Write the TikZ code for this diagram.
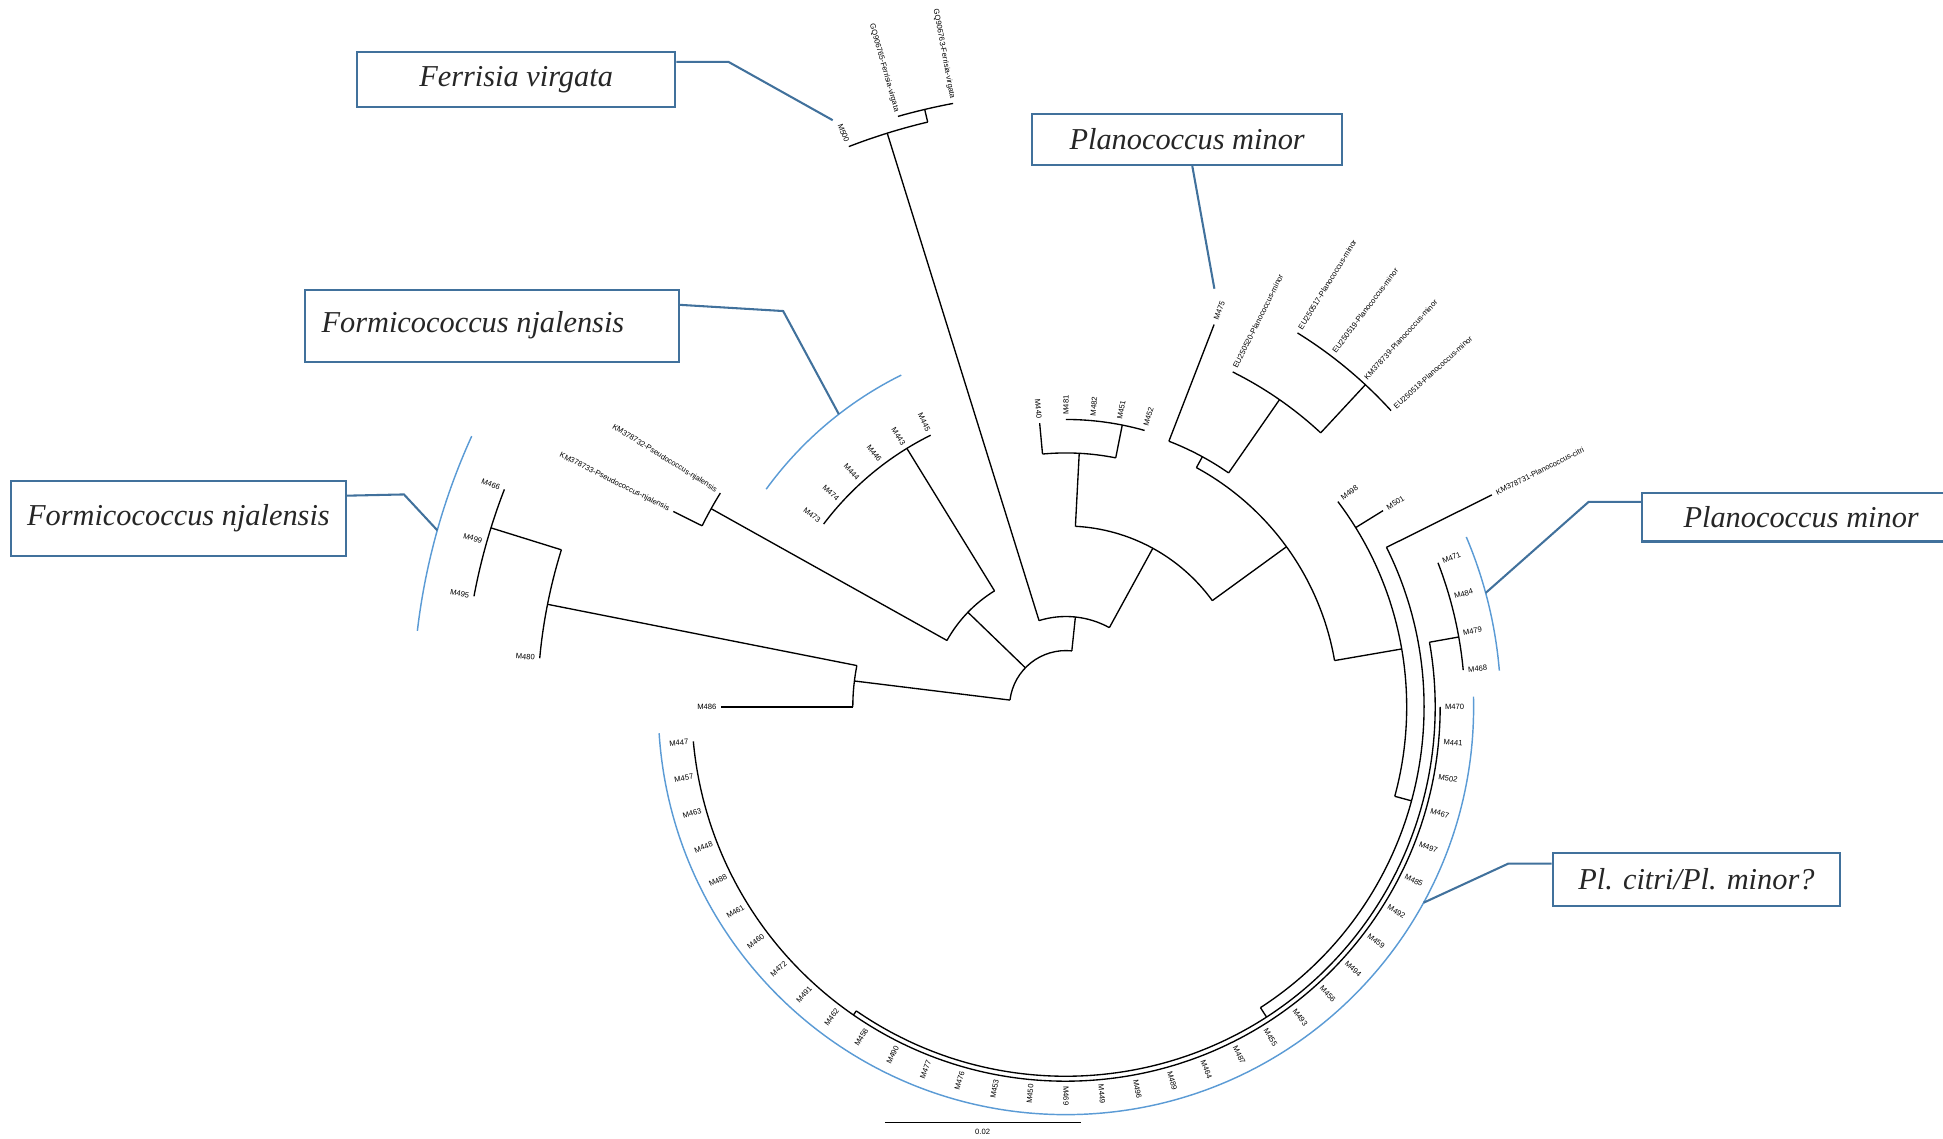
\documentclass[tikz,border=0pt]{standalone}
\usepackage{fontspec}
\setmainfont{Liberation Serif}
\newfontfamily\lblfont{Liberation Sans}
\usetikzlibrary{calc}
\definecolor{connblue}{HTML}{41719C}
\definecolor{arcblue}{HTML}{5B9BD5}
\newcommand\tarc[3]{\draw[branch] ($(O)+({#1}:{#3})$) arc[start angle={#1},end angle={#2},radius={#3}];}
\newcommand\trad[3]{\draw[branch] ($(O)+({#1}:{#2})$) -- ($(O)+({#1}:{#3})$);}
\newcommand\leaf[4]{%
  \pgfmathtruncatemacro\lside{cos(#2)>-0.01 ? 1 : 0}%
  \ifnum\lside=1
    \node[leaflbl,anchor=west,rotate={#2}] (#1) at ($(O)+({#2}:{#3+3})$) {#4};
  \else
    \node[leaflbl,anchor=east,rotate={#2+180}] (#1) at ($(O)+({#2}:{#3+3})$) {#4};
  \fi}
\begin{document}
\begin{tikzpicture}[x=0.6pt,y=0.6pt,
  branch/.style={line width=0.65pt,black},
  leaflbl/.style={font=\lblfont\fontsize{3.7}{4}\selectfont,inner sep=0.4pt},
  clabox/.style={draw=connblue,line width=1pt,font=\itshape\fontsize{14.7}{17}\selectfont,text=black!85,inner sep=0pt},
  callout/.style={draw=connblue,line width=1pt},
  cladearc/.style={draw=arcblue,line width=0.7pt}]
\useasboundingbox (0,0) rectangle (1568,-919);
\coordinate (O) at (860.2,-570.5);

% ---------- tree ----------
\tarc{84}{173}{45.5}
\trad{173}{45.5}{172} \tarc{168.8}{180}{172}
\trad{180}{172}{278}
\trad{168.8}{172}{426.5} \tarc{162.7}{174.71}{426.5}
\trad{162.7}{426.5}{486} \tarc{158.82}{169.41}{486}
\trad{136}{45.5}{110} \tarc{121.6}{150.8}{110}
\trad{150.8}{110}{328} \tarc{148.24}{153.53}{328}
\trad{153.53}{328}{354}
\trad{121.6}{110}{245} \tarc{116.47}{142.94}{245}
\trad{84}{45.5}{73} \tarc{61.3}{107.3}{73}
\trad{107.3}{73}{485} \tarc{103.3}{111.18}{485}
\trad{103.3}{485}{495.5} \tarc{100.59}{105.88}{495.5}
\trad{61.3}{73}{146} \tarc{36}{87}{146}
\trad{87}{146}{205} \tarc{78.7}{95.29}{205}
\trad{95.29}{205}{230}
\trad{78.7}{205}{232} \tarc{74.12}{90}{232}
\trad{36}{146}{220} \tarc{9.8}{61.4}{220}
\trad{61.4}{220}{230} \tarc{55.2}{68.82}{230}
\trad{68.82}{230}{331}
\trad{55.2}{230}{302} \tarc{47.1}{63.53}{302}
\trad{47.1}{302}{355} \tarc{42.35}{58.24}{355}
\trad{9.8}{220}{275} \tarc{-15.2}{37.06}{275}
\trad{31.76}{275}{301}
\trad{-15.2}{275}{289} \tarc{-57.1}{26.47}{289}
\trad{26.47}{289}{384}
\trad{-57.1}{289}{298} \tarc{-124.6}{10.1}{298}
\trad{10.1}{298}{322} \tarc{5.29}{21.18}{322}
\trad{-124.6}{298}{302} \tarc{-174.71}{0}{302}

% ---------- leaf labels ----------
\foreach \k/\t/\r in {
  1/M468/322, 2/M479/322, 3/M484/322, 4/M471/322,
  5/KM378731-Planococcus-citri/384, 6/M501/301, 7/M498/275,
  8/EU250518-Planococcus-minor/355, 9/KM378739-Planococcus-minor/355,
  10/EU250519-Planococcus-minor/355, 11/EU250517-Planococcus-minor/355,
  12/EU250520-Planococcus-minor/302, 13/M475/331,
  14/M452/232, 15/M451/232, 16/M482/232, 17/M481/232, 18/M440/230,
  19/GQ906763-Ferrisia-virgata/495.5, 20/GQ906765-Ferrisia-virgata/495.5, 21/M500/485,
  22/M445/245, 23/M443/245, 24/M446/245, 25/M444/245, 26/M474/245, 27/M473/245,
  28/KM378732-Pseudococcus-njalensis/328, 29/KM378733-Pseudococcus-njalensis/354,
  30/M466/486, 31/M499/486, 32/M495/486, 33/M480/426.5, 34/M486/278,
  35/M447/302, 36/M457/302, 37/M463/302, 38/M448/302, 39/M488/302, 40/M461/302,
  41/M460/302, 42/M472/302, 43/M491/302, 44/M462/302, 45/M458/302, 46/M490/302,
  47/M477/302, 48/M476/302, 49/M453/302, 50/M450/302, 51/M469/302, 52/M449/302,
  53/M496/302, 54/M489/302, 55/M464/302, 56/M487/302, 57/M455/302, 58/M493/302,
  59/M456/302, 60/M494/302, 61/M459/302, 62/M492/302, 63/M485/302, 64/M497/302,
  65/M467/302, 66/M502/302, 67/M441/302, 68/M470/302}
  {\leaf{l\k}{\k*180/34}{\r}{\t}}

% ---------- clade arcs ----------
\draw[cladearc] ($(O)+(116.4:299)$) arc[start angle=116.4,end angle=144,radius=299];
\draw[cladearc] ($(O)+(155.5:527)$) arc[start angle=155.5,end angle=173.3,radius=527];
\draw[cladearc] ($(O)+(4.8:351)$) arc[start angle=4.8,end angle=23,radius=351];
\draw[cladearc] ($(O)+(1.45:329)$) arc[start angle=1.45,end angle=-176.3,radius=329];
\coordinate (c1) at (672,-97);
\coordinate (c2) at (980,-233);
\coordinate (c3) at ($(O)+(127.8:299)$);
\coordinate (c4) at ($(O)+(164.3:527)$);
\coordinate (c5) at ($(O)+(15.2:351)$);
\coordinate (c6) at ($(O)+(-28.7:329)$);

% ---------- boxes ----------
\node[clabox,minimum width=154.2pt,minimum height=26.4pt] (b1) at (416.5,-64) {Ferrisia virgata};
\node[clabox,minimum width=150pt,minimum height=24.6pt] (b2) at (958,-112.5) {Planococcus minor};
\node[clabox,minimum width=181.2pt,minimum height=34.8pt] (b3) at (397,-263) {\raisebox{3.5pt}{\hbox to 165pt{Formicococcus njalensis\hfil}}};
\node[clabox,minimum width=162pt,minimum height=36.6pt] (b4) at (144,-418.5) {Formicococcus njalensis};
\node[clabox,minimum width=154.2pt,minimum height=23.4pt] (b5) at (1453.5,-417.5) {Planococcus minor};
\node[clabox,minimum width=139.2pt,minimum height=25.8pt] (b6) at (1369,-709.5) {Pl. citri/Pl. minor?};

\draw[callout] (b1.east |- 0,-50) -- (588,-50) -- (c1);
\draw[callout] (962,-133) -- (c2);
\draw[callout] (b3.east |- 0,-246) -- (632,-251) -- (c3);
\draw[callout] (b4.east |- 0,-400) -- (326,-399) -- (c4);
\draw[callout] (b5.west |- 0,-405) -- (1282,-405) -- (c5);
\draw[callout] (b6.west |- 0,-697) -- (1217,-697) -- (c6);

% ---------- scale bar ----------
\coordinate (s1) at (714,-906);
\coordinate (s2) at (872,-906);
\draw[line width=0.6pt] (s1) -- (s2);
\node[leaflbl] (sl) at (793,-913.5) {0.02};
\end{tikzpicture}
\end{document}
